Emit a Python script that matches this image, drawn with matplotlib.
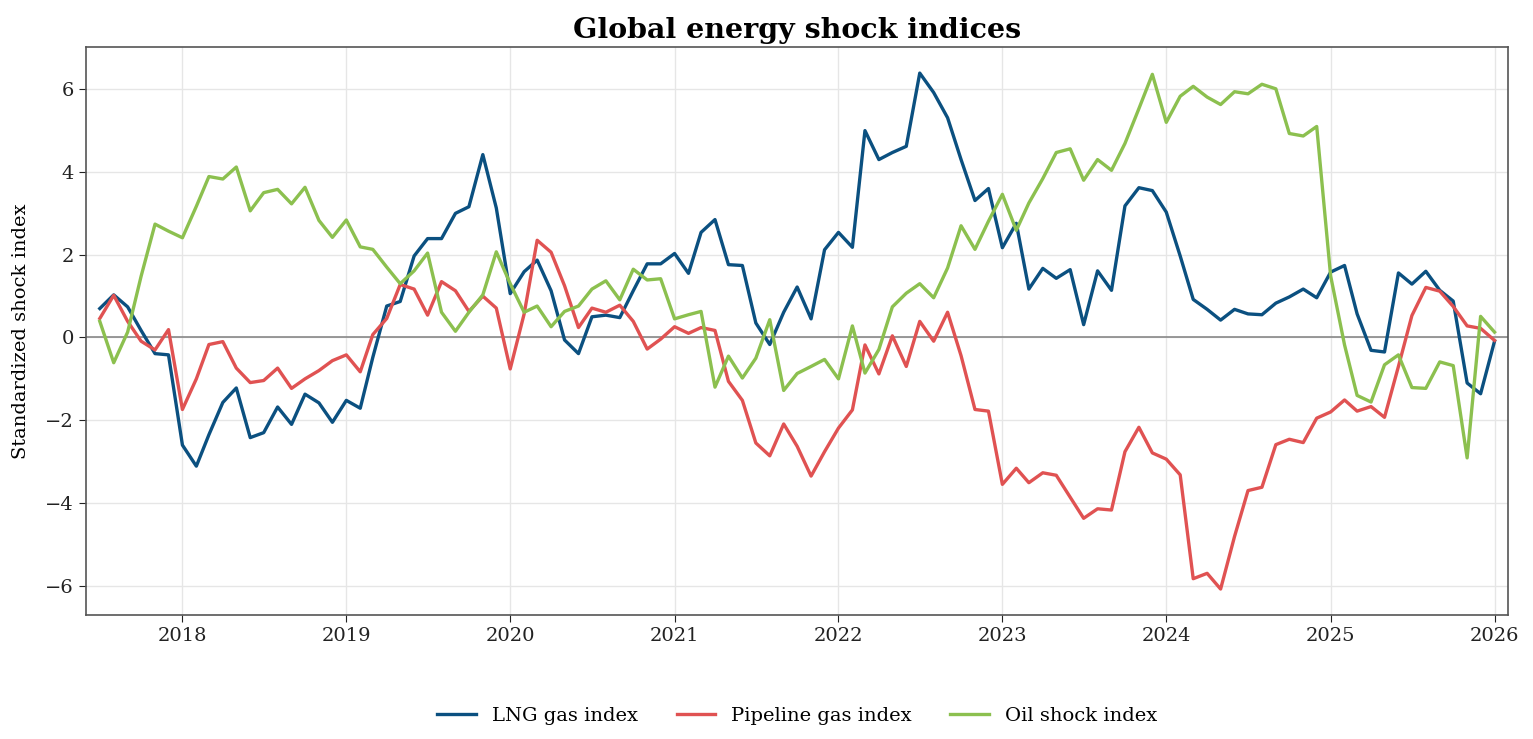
import numpy as np
import pandas as pd
import matplotlib
matplotlib.use("Agg")
import matplotlib.pyplot as plt
import matplotlib.dates as mdates

# monthly values, 2017-07 .. 2026-01
months = pd.date_range("2017-07-01", "2026-01-01", freq="MS")

lng = [
    0.70, 1.03, 0.74, 0.17, -0.39, -0.42,
    -2.60, -3.11, -2.35, -1.57, -1.22, -2.42, -2.30, -1.68, -2.10, -1.37, -1.58, -2.05,
    -1.52, -1.71, -0.48, 0.76, 0.87, 1.97, 2.39, 2.39, 3.00, 3.16, 4.42, 3.13,
    1.06, 1.59, 1.87, 1.13, -0.06, -0.39, 0.50, 0.54, 0.48, 1.13, 1.78, 1.78,
    2.03, 1.55, 2.54, 2.85, 1.76, 1.74, 0.35, -0.17, 0.61, 1.22, 0.45, 2.12,
    2.54, 2.18, 5.00, 4.30, 4.47, 4.62, 6.39, 5.92, 5.31, 4.30, 3.31, 3.60,
    2.17, 2.76, 1.17, 1.67, 1.43, 1.64, 0.31, 1.61, 1.14, 3.18, 3.62, 3.55,
    3.03, 1.97, 0.92, 0.68, 0.42, 0.68, 0.57, 0.55, 0.83, 0.98, 1.17, 0.96,
    1.58, 1.74, 0.57, -0.31, -0.35, 1.56, 1.29, 1.60, 1.14, 0.88, -1.10, -1.36,
    -0.09,
]

pipeline = [
    0.46, 1.02, 0.39, -0.09, -0.30, 0.19,
    -1.74, -1.00, -0.17, -0.10, -0.74, -1.09, -1.04, -0.74, -1.23, -1.00, -0.80, -0.56,
    -0.42, -0.83, 0.07, 0.46, 1.28, 1.17, 0.54, 1.35, 1.13, 0.63, 1.00, 0.71,
    -0.76, 0.57, 2.35, 2.06, 1.25, 0.24, 0.71, 0.61, 0.78, 0.39, -0.28, -0.04,
    0.26, 0.10, 0.24, 0.17, -1.06, -1.52, -2.55, -2.86, -2.09, -2.63, -3.35, -2.76,
    -2.19, -1.75, -0.18, -0.88, 0.04, -0.70, 0.39, -0.09, 0.61, -0.44, -1.74, -1.78,
    -3.55, -3.16, -3.51, -3.27, -3.33, -3.86, -4.37, -4.14, -4.17, -2.76, -2.17, -2.79,
    -2.94, -3.32, -5.83, -5.70, -6.08, -4.81, -3.70, -3.62, -2.59, -2.46, -2.54, -1.95,
    -1.80, -1.51, -1.78, -1.67, -1.93, -0.70, 0.53, 1.21, 1.12, 0.75, 0.28, 0.22,
    -0.07,
]

oil = [
    0.39, -0.61, 0.13, 1.48, 2.74, 2.57,
    2.41, 3.17, 3.89, 3.83, 4.12, 3.06, 3.50, 3.58, 3.23, 3.63, 2.83, 2.42,
    2.84, 2.19, 2.13, 1.70, 1.30, 1.61, 2.04, 0.61, 0.15, 0.61, 1.03, 2.07,
    1.30, 0.61, 0.76, 0.26, 0.63, 0.76, 1.17, 1.37, 0.91, 1.65, 1.39, 1.42,
    0.45, 0.55, 0.63, -1.20, -0.45, -0.98, -0.50, 0.43, -1.28, -0.87, -0.70, -0.53,
    -1.00, 0.28, -0.86, -0.29, 0.74, 1.07, 1.30, 0.96, 1.68, 2.70, 2.13, 2.81,
    3.46, 2.59, 3.25, 3.84, 4.47, 4.56, 3.80, 4.30, 4.04, 4.69, 5.53, 6.36,
    5.20, 5.83, 6.07, 5.81, 5.63, 5.94, 5.89, 6.12, 6.01, 4.93, 4.87, 5.10,
    1.49, -0.18, -1.40, -1.56, -0.66, -0.42, -1.21, -1.23, -0.59, -0.68, -2.91, 0.51,
    0.13,
]

series = [
    ("LNG gas index", lng, "#0b5080"),
    ("Pipeline gas index", pipeline, "#e05252"),
    ("Oil shock index", oil, "#8cc04f"),
]

plt.rcParams["font.family"] = ["DejaVu Serif"]

fig = plt.figure(figsize=(15.33, 7.39), dpi=100)
ax = fig.add_axes([0.056, 0.168, 0.928, 0.768])

for name, vals, col in series:
    ax.plot(months, vals, color=col, lw=2.4, label=name)

ax.axhline(0, color="#888888", lw=1.2, zorder=1)
ax.margins(x=0.01)
ax.grid(True, color="#e6e6e6", lw=1)
ax.set_axisbelow(True)
ax.xaxis.set_major_locator(mdates.YearLocator())
ax.xaxis.set_major_formatter(mdates.DateFormatter("%Y"))
ax.tick_params(labelsize=14, colors="#222222", length=5)
for s in ax.spines.values():
    s.set_color("#555555")
    s.set_linewidth(1.2)

ax.set_ylabel("Standardized shock index", fontsize=14, labelpad=11)
ax.set_title("Global energy shock indices", fontsize=20.5, fontweight="bold", pad=7)
ax.legend(loc="lower center", ncol=3, frameon=False, fontsize=14,
          bbox_to_anchor=(0.5, -0.225), handlelength=2.0, columnspacing=2.0)

fig.savefig("out.png", dpi=100)
